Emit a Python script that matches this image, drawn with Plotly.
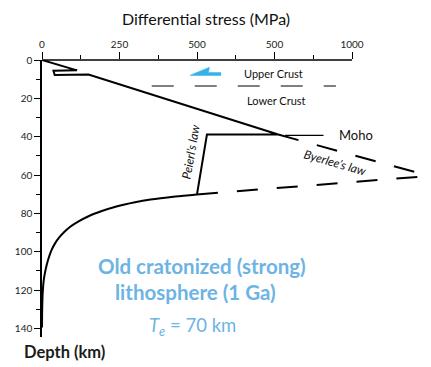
import plotly.graph_objects as go

# --- strength envelope (differential stress in MPa, depth in km) ---
brittle_stress = [0, 113, 37, 41, 150, 762, 532, 500]
brittle_depth = [0, 5.4, 5.6, 7.8, 7.6, 38.9, 38.9, 70.1]

ductile_stress = [500, 430, 350, 300, 240, 193, 150, 118, 90, 70, 55, 43, 30, 19, 11, 5.5, 2.5, 1, 0.3, 0]
ductile_depth = [70.1, 71.2, 72.8, 74.2, 76.4, 78.8, 81.5, 84.2, 87.1, 90.0, 92.7, 95.4, 99.4,
                 104.6, 109.8, 115.0, 120.8, 127.0, 133.0, 139.5]

byerlee_stress = [762, 1250]
byerlee_depth = [38.9, 60.5]

lower_stress = [500, 1250]
lower_depth = [70.1, 60.5]

crust_boundary_stress = [354, 948]
crust_boundary_depth = [13.6, 13.6]

moho_stress = [784, 908]
moho_depth = [39.3, 39.3]

# shear-sense half arrow in the upper crust
arrow_stress = [478, 540, 537, 577, 577, 478]
arrow_depth = [7.9, 3.8, 6.5, 6.5, 8.1, 8.1]

x_ticks = [0, 250, 500, 750, 1000]
x_tick_text = ["0", "250", "500", "500", "1000"]
x_minor = [125, 375, 625, 875]
y_ticks = [0, 20, 40, 60, 80, 100, 120, 140]
y_minor = [10, 30, 50, 70, 90, 110, 130]

FONT = "Lato"
BLUE = "#6cb4e4"

fig = go.Figure()

fig.add_trace(go.Scatter(x=brittle_stress, y=brittle_depth, mode="lines",
                         line=dict(color="black", width=2), hoverinfo="skip"))
fig.add_trace(go.Scatter(x=ductile_stress, y=ductile_depth, mode="lines",
                         line=dict(color="black", width=2, shape="spline", smoothing=0.8),
                         hoverinfo="skip"))
fig.add_trace(go.Scatter(x=byerlee_stress, y=byerlee_depth, mode="lines",
                         line=dict(color="black", width=2, dash="21px,19px"), hoverinfo="skip"))
fig.add_trace(go.Scatter(x=lower_stress, y=lower_depth, mode="lines",
                         line=dict(color="black", width=2, dash="21px,19px"), hoverinfo="skip"))
fig.add_trace(go.Scatter(x=crust_boundary_stress, y=crust_boundary_depth, mode="lines",
                         line=dict(color="black", width=1.1, dash="22px,21px"), hoverinfo="skip"))
fig.add_trace(go.Scatter(x=moho_stress, y=moho_depth, mode="lines",
                         line=dict(color="black", width=1.1), hoverinfo="skip"))
fig.add_trace(go.Scatter(x=arrow_stress, y=arrow_depth, mode="lines", fill="toself",
                         fillcolor="#38b0e8", line=dict(color="#38b0e8", width=0.5),
                         hoverinfo="skip"))

# top axis line, drawn only over the labelled 0-1000 MPa span
fig.add_shape(type="line", xref="x", yref="paper", x0=0, x1=1000, y0=1, y1=1,
              line=dict(color="black", width=1.5))

annotations = [
    dict(x=748, y=6.8, text="Upper Crust", font=dict(size=11, color="#111")),
    dict(x=758, y=20.9, text="Lower Crust", font=dict(size=11, color="#111")),
    dict(x=1012, y=39.1, text="Moho", font=dict(size=13, color="#111")),
    dict(x=945, y=53.5, text="<i>Byerlee’s law</i>", textangle=16, font=dict(size=12, color="#111")),
    dict(x=478, y=48, text="<i>Peierl’s law</i>", textangle=-80, font=dict(size=12, color="#111")),
    dict(x=516, y=107.3, text="<b>Old cratonized (strong)</b>", font=dict(size=20.5, color=BLUE)),
    dict(x=496, y=121.1, text="<b>lithosphere (1 Ga)</b>", font=dict(size=20.5, color=BLUE)),
    dict(x=486, y=138.8, text="<i>T</i><sub><i>e</i></sub> = 70 km", font=dict(size=18.5, color=BLUE)),
]
for a in annotations:
    a.update(xref="x", yref="y", showarrow=False, xanchor="center", yanchor="middle")

# axis titles sit outside the data range, so place them on the paper
annotations += [
    dict(xref="paper", yref="paper", x=0.421, y=1.1516, text="Differential stress (MPa)",
         showarrow=False, xanchor="center", yanchor="middle", font=dict(size=16, color="#111")),
    dict(xref="paper", yref="paper", x=0.058, y=-0.053, text="<b>Depth (km)</b>",
         showarrow=False, xanchor="center", yanchor="middle", font=dict(size=16.5, color="#1b1b1b")),
]

fig.update_layout(
    width=431, height=367,
    margin=dict(l=42, r=0, t=60, b=30),
    paper_bgcolor="white", plot_bgcolor="white",
    showlegend=False,
    font=dict(family=FONT, color="#222"),
    annotations=annotations,
    xaxis=dict(range=[0, 1254.8], side="top", showline=False, showgrid=False, zeroline=False,
               tickmode="array", tickvals=x_ticks, ticktext=x_tick_text,
               ticks="outside", ticklen=7, tickwidth=1.2, tickcolor="black",
               tickfont=dict(size=10, color="#222", family=FONT),
               minor=dict(tickmode="array", tickvals=x_minor, ticks="outside",
                          ticklen=4, tickwidth=1, tickcolor="black")),
    yaxis=dict(range=[144.5, 0], showline=True, linecolor="black", linewidth=1.5,
               showgrid=False, zeroline=False,
               tickmode="array", tickvals=y_ticks,
               ticks="outside", ticklen=6, tickwidth=1.2, tickcolor="black",
               tickfont=dict(size=10, color="#222", family=FONT),
               minor=dict(tickmode="array", tickvals=y_minor, ticks="outside",
                          ticklen=4, tickwidth=1, tickcolor="black")),
)

fig.write_html("out.html")
